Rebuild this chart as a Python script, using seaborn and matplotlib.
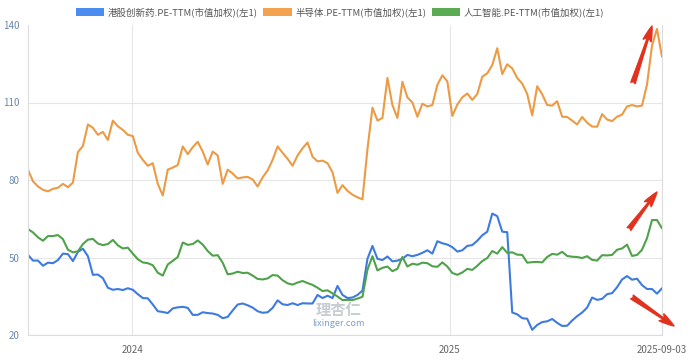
import matplotlib.pyplot as plt
import pandas as pd
import seaborn as sns
from matplotlib.patches import Patch


# data: ~weekly readings of the three PE-TTM series, 2023-09-03 .. 2025-09-03
start, end = '2023-09-03', '2025-09-03'

hk_drug = [
    51, 48.8, 48.8, 46.8, 48, 47.8, 49, 51.5, 51.3, 48.6, 52.2, 53.4, 50.5, 43.3, 43.4, 42, 38.3, 37.5, 37.8, 37.4, 38.1, 37.5,
    35.8, 34.3, 34.2, 31.8, 29.2, 28.9, 28.5, 30.3, 30.7, 30.9, 30.5, 27.8, 27.8, 28.8, 28.5, 28.3, 27.8, 26.5, 27, 29.5, 31.8,
    32.2, 31.5, 30.6, 29.2, 28.6, 28.8, 30.5, 33.4, 31.9, 31.6, 32.3, 31.6, 32.3, 32.2, 32.2, 35.5, 34.3, 35.2, 34.3, 39, 35.5,
    34.3, 34.5, 35.5, 37.2, 49.5, 54.5, 49.5, 49, 50.4, 48.5, 48.8, 49.5, 51, 50.5, 51, 51.8, 52.8, 51.5, 56.3, 55.5, 55,
    54, 52.3, 52.8, 54.5, 54.8, 56.5, 58.6, 60, 67, 66, 60, 59.8, 28.7, 28, 26.5, 26.3, 22, 23.9, 25, 25.3, 26.2,
    24.7, 23.5, 23.6, 25.6, 27.3, 28.7, 30.6, 34.5, 33.6, 34, 35.8, 36.2, 38.5, 41.5, 42.8, 41.4, 41.8, 39.3, 37.8, 37.8, 36, 38.1,
]
semis = [
    84, 79.5, 77.5, 76.2, 75.6, 76.6, 77, 78.5, 77.2, 79, 90.8, 93.2, 101.5, 100.2, 97.5, 98.6, 95.5, 103, 100.8, 99.4, 97.5, 97,
    90.5, 87.8, 85.5, 86.5, 78.5, 74, 84, 84.8, 85.8, 93, 90, 92.7, 94.8, 91, 86, 91, 89.5, 78.5, 84, 82.5, 80.6,
    81, 81.2, 80.2, 77.5, 81, 83.7, 87.8, 93, 90.5, 88.2, 85.5, 89.5, 92.3, 94.5, 89, 87.2, 87.5, 86.5, 83, 75, 78,
    75.8, 74.3, 73.3, 72.5, 92, 108, 103, 104, 119.5, 109, 104, 118, 112, 110, 104.5, 109.5, 108.5, 109, 116.8, 120.5, 118.2,
    104.8, 109.2, 112, 113.5, 111, 113.3, 120, 121.3, 124.5, 131, 121, 124.8, 123.2, 119.5, 117.3, 113.3, 105, 116.3, 113.2, 109, 108.8,
    110.5, 104.5, 104.4, 103, 101.5, 104.4, 102.2, 100.7, 100.6, 105.5, 103.4, 102.8, 104.5, 105.3, 108.5, 109, 108.5, 108.8, 117, 132, 138.5, 127.7,
]
ai = [
    61, 59.7, 57.8, 56.5, 58.3, 58.3, 58.7, 57.1, 53, 52, 52.4, 55.2, 56.9, 57.2, 55.4, 54.8, 55.2, 56.8, 54.7, 53.5, 53.8, 51.5,
    49.3, 48.1, 47.8, 47, 44.1, 43, 47.3, 48.7, 50.2, 55.8, 54.9, 55.2, 56.6, 55, 52.5, 50.7, 50.9, 48, 43.5, 43.8, 44.5,
    44, 44.1, 43, 41.7, 41.5, 41.9, 43.2, 43, 41.2, 40, 39.5, 40.3, 40.9, 40.1, 39.4, 38.3, 37, 37.3, 36.1, 34.9, 33.5,
    33.6, 33.5, 34.1, 34.8, 45.3, 50.5, 45, 46, 46.5, 44.7, 45.6, 50.2, 46.5, 47.6, 47.2, 48, 47.8, 46.6, 46.4, 48.1, 46.5,
    44, 43.3, 44.2, 45.6, 45.2, 46.8, 48.6, 49.8, 52.5, 51.5, 54, 51.8, 52, 51.1, 51, 48, 48.2, 48.3, 48.1, 50.2, 51.4,
    51.1, 52.2, 50.6, 50.3, 50.2, 49.8, 50.5, 49.1, 48.8, 50.9, 50.8, 51, 53, 53.5, 55, 50.6, 51, 53, 57.5, 64.5, 64.5, 61.3,
]

names = ['港股创新药.PE-TTM(市值加权)(左1)', '半导体.PE-TTM(市值加权)(左1)', '人工智能.PE-TTM(市值加权)(左1)']
line_colors = ['#3d7be0', '#ec9b45', '#4fa24a']
patch_colors = ['#4b8cf0', '#f3a24f', '#5aab54']

y_ticks = [20, 50, 80, 110, 140]
x_ticks = ['2024-01-01', '2025-01-01', end]
x_labels = ['2024', '2025', '2025-09-03']

dates = pd.date_range(start, end, periods=len(semis))
df = pd.DataFrame({'date': dates, names[0]: hk_drug, names[1]: semis, names[2]: ai})
long = df.melt(id_vars='date', var_name='series', value_name='pe')

sns.set_style('white')
plt.rcParams['font.family'] = ['Noto Sans CJK SC', 'DejaVu Sans']

W, H = 692, 363
fig = plt.figure(figsize=(W / 100, H / 100), dpi=100)
ax = fig.add_axes([28 / W, 28 / H, 634 / W, 310 / H])

sns.lineplot(
    data=long, x='date', y='pe', hue='series', hue_order=names,
    palette=line_colors, linewidth=1.5, legend=False, ax=ax
)

# axes
ax.set_xlim(dates[0], dates[-1])
ax.set_ylim(20, 140)
ax.set_yticks(y_ticks)
ax.set_xticks(pd.to_datetime(x_ticks), x_labels)
ax.set_xlabel(None)
ax.set_ylabel(None)
ax.tick_params(axis='y', length=0, pad=6, labelsize=7, labelcolor='#6a87ad')
ax.tick_params(axis='x', length=0, pad=7, labelsize=7, labelcolor='#666666')

# grid and spines
ax.grid(True, color='#e6e6e6', linewidth=0.8)
ax.get_ygridlines()[-1].set_visible(False)
ax.set_axisbelow(True)
ax.spines['top'].set_visible(False)
for s in ['left', 'bottom', 'right']:
    ax.spines[s].set_color('#dcdcdc')
    ax.spines[s].set_linewidth(0.8)

# legend with colour blocks
handles = [Patch(facecolor=c, edgecolor='none') for c in patch_colors]
fig.legend(
    handles, names, loc='center', bbox_to_anchor=(340 / W, 1 - 12 / H), ncol=3,
    frameon=False, fontsize=6.8, handlelength=3.0, handleheight=0.9,
    handletextpad=0.35, columnspacing=0.6, labelcolor='#555555'
)

# watermark
fig.text(338 / W, 1 - 310 / H, '理杏仁', fontsize=11, color='#c8cdd3',
         ha='center', va='center', fontweight='bold')
fig.text(338 / W, 1 - 324 / H, 'lixinger.com', fontsize=6.5, color='#7e9ec8',
         ha='center', va='center')

# red hand-drawn arrows
def fxy(px, py):
    return (px / W, 1 - py / H)

arrows = [((633, 83), (652, 26)), ((629, 229), (657, 192)), ((632, 297), (674, 326))]
for tail, tip in arrows:
    ax.annotate(
        '', xy=fxy(*tip), xytext=fxy(*tail),
        xycoords='figure fraction', textcoords='figure fraction',
        arrowprops=dict(arrowstyle='fancy,head_length=1.0,head_width=0.55,tail_width=0.3',
                        color='#e2321e', shrinkA=0, shrinkB=0, mutation_scale=11),
        annotation_clip=False
    )

fig.savefig('out.png', dpi=100)
